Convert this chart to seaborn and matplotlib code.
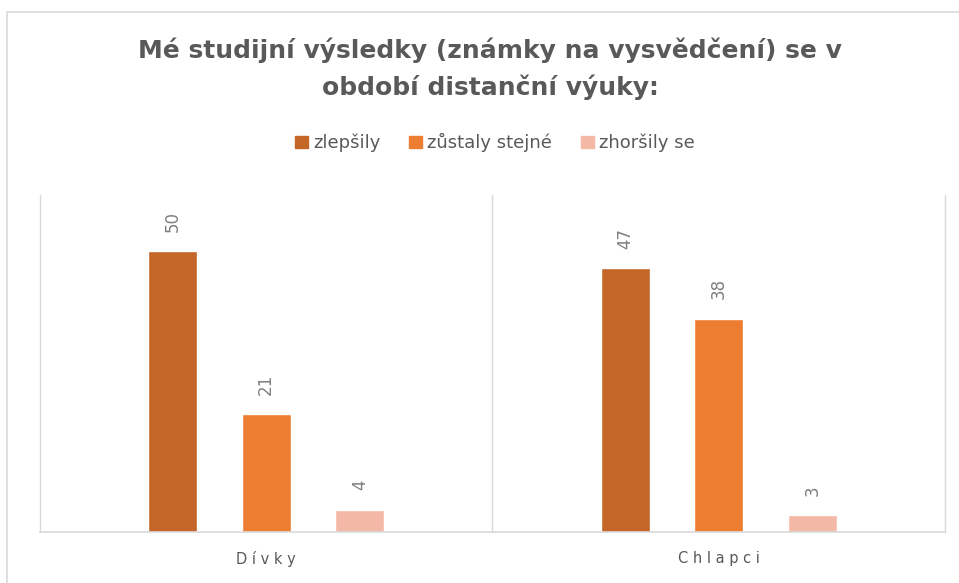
import pandas as pd
import seaborn as sns
import matplotlib.pyplot as plt
from matplotlib.patches import Rectangle

# data
skupiny = ['Dívky', 'Chlapci']
odpovedi = ['zlepšily', 'zůstaly stejné', 'zhoršily se']
zlepsily = [50, 47]
zustaly = [21, 38]
zhorsily = [4, 3]
barvy = ['#C46628', '#ED7D31', '#F4B9A6']

df = pd.DataFrame({
    'skupina': skupiny * 3,
    'odpoved': [odpovedi[0]] * 2 + [odpovedi[1]] * 2 + [odpovedi[2]] * 2,
    'pocet': zlepsily + zustaly + zhorsily,
})

sns.set_theme(style='white')
plt.rcParams['font.family'] = ['DejaVu Sans']
seda = '#595959'

fig = plt.figure(figsize=(9.59, 5.83), dpi=100)
ax = fig.add_axes([0.0417, 0.0875, 0.9437, 0.578])

sns.barplot(data=df, x='skupina', y='pocet', hue='odpoved', order=skupiny,
            hue_order=odpovedi, palette=barvy, width=0.62, gap=0.475,
            saturation=1, ax=ax, legend=False)

ax.set_xlim(-0.5, 1.5)
ax.set_ylim(0, 60)
ax.set_yticks([])
ax.set_xlabel('')
ax.set_ylabel('')
ax.set_xticks([0, 1])
ax.set_xticklabels(['D í v k y', 'C h l a p c i'], color=seda, fontsize=10.5)
ax.tick_params(axis='x', length=0, pad=14)
for s in ['top', 'right', 'left']:
    ax.spines[s].set_visible(False)
ax.spines['bottom'].set_color('#D9D9D9')
ax.spines['bottom'].set_linewidth(1.2)
for x in [-0.5, 0.5, 1.5]:
    ax.axvline(x, color='#D9D9D9', lw=1, clip_on=False)

for cont in ax.containers:
    ax.bar_label(cont, fmt='%d', rotation=90, padding=14, color='#7F7F7F', fontsize=12)

# ramecek grafu
fig.patches.append(Rectangle((7 / 959, -0.1), 1.1, 1 - 12 / 583 + 0.1,
                             transform=fig.transFigure, fill=False,
                             edgecolor='#D9D9D9', lw=1.2))

fig.text(0.511, 0.914, 'Mé studijní výsledky (známky na vysvědčení) se v',
         ha='center', va='center', fontsize=18, fontweight='bold', color=seda)
fig.text(0.511, 0.851, 'období distanční výuky:',
         ha='center', va='center', fontsize=18, fontweight='bold', color=seda)

handles = [Rectangle((0, 0), 1, 1, color=c) for c in barvy]
fig.legend(handles, odpovedi, loc='center', bbox_to_anchor=(0.516, 0.755),
           ncol=3, frameon=False, fontsize=13, handlelength=0.7,
           handleheight=0.7, handletextpad=0.3, columnspacing=1.6,
           labelcolor=seda)

plt.savefig('out.png', dpi=100)
